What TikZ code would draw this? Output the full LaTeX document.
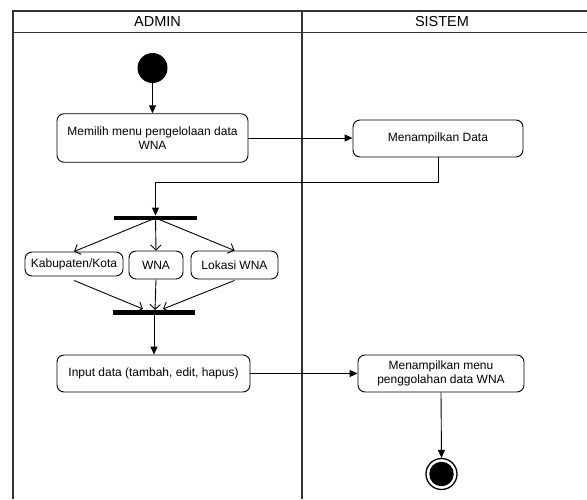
\documentclass[tikz,border=0pt]{standalone}
\usepackage{fontspec}
\setmainfont{Liberation Sans}
\usetikzlibrary{arrows.meta,calc}

\begin{document}
\begin{tikzpicture}[x=1pt,y=-1pt,
  lane/.style={draw=black!80,line width=1.1pt},
  hdr/.style={font=\fontsize{14.5}{16}\selectfont,inner sep=0pt},
  act/.style={draw,rounded corners=7pt,line width=0.9pt,align=center,
              font=\fontsize{12}{14}\selectfont,inner sep=0pt},
  bar/.style={fill=black,inner sep=0pt,minimum height=4.5pt},
  flow/.style={line width=0.9pt,-{Triangle[length=8pt,width=7pt]}},
  branch/.style={line width=0.9pt,-{Straight Barb[length=5pt,width=10.5pt]}}
]
\useasboundingbox (0,0) rectangle (587,499);

% swimlane frame
\draw[lane] (587,11) -- (13,11) -- (13,499);
\draw[lane] (13,32.5) -- (587,32.5);
\draw[lane] (302,11) -- (302,499);
\node[hdr] (hadmin) at (157.5,22) {ADMIN};
\node[hdr] (hsistem) at (442,22) {SISTEM};

% activities
\node[circle,fill=black,minimum size=30pt,inner sep=0pt] (start) at (152.5,68) {};
\node[act,minimum width=191pt,minimum height=48.5pt] (b1) at (152.5,138)
  {Memilih menu pengelolaan data\\WNA};
\node[act,minimum width=170pt,minimum height=37pt] (b2) at (438,138.5)
  {Menampilkan Data};
\coordinate (turn) at (155.5,182);
\node[bar,minimum width=83pt] (fork) at (155.5,218) {};
\node[act,minimum width=98pt,minimum height=24pt] (kab) at (74,264) {Kabupaten/Kota};
\node[act,minimum width=54pt,minimum height=28pt] (wna) at (156,265) {WNA};
\node[act,minimum width=87pt,minimum height=28pt] (lok) at (234.5,265) {Lokasi WNA};
\node[bar,minimum width=82pt] (join) at (154,312.5) {};
\coordinate (jk) at (143,309);
\coordinate (jw) at (155,310);
\coordinate (jl) at (163,309);
\node[act,minimum width=193pt,minimum height=37pt] (inp) at (153.5,373.5)
  {Input data (tambah, edit, hapus)};
\node[act,minimum width=166pt,minimum height=37pt] (last) at (441,373.5)
  {Menampilkan menu\\penggolahan data WNA};
\node[circle,draw,line width=1.3pt,minimum size=31pt,inner sep=0pt] (end) at (441.5,474) {};
\node[circle,fill=black,minimum size=24.5pt,inner sep=0pt] (endc) at (end.center) {};

% connectors
\draw[flow] (start) -- (b1);
\draw[flow] (b1.east) -- (b1.east -| b2.west);
\draw[flow] (b2.south) |- (turn) -- (fork.north);
\draw[branch] (fork.center) -- (kab.north);
\draw[branch] (fork.center) -- (wna.north);
\draw[branch] (fork.center) -- (lok.north);
\draw[branch] ([yshift=-4pt]kab.south) -- (jk);
\draw[branch] (wna.south) -- (jw);
\draw[branch] ([yshift=-1pt]lok.south) -- (jl);
\draw[flow] (join.south) -- (join.south |- inp.north);
\draw[flow] (inp.east) -- (inp.east -| last.west);
\draw[flow] (last.south) -- (end.north);
\end{tikzpicture}
\end{document}
